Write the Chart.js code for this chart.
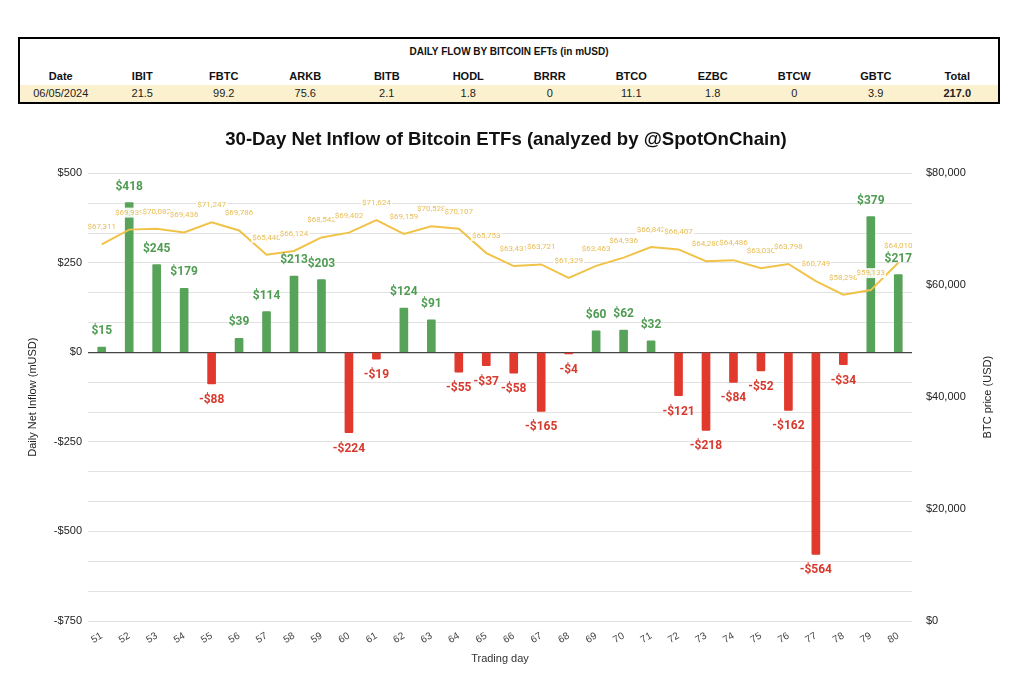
<!DOCTYPE html>
<html><head><meta charset="utf-8">
<script src="https://cdn.jsdelivr.net/npm/chart.js@4"></script>
<style>
html,body{margin:0;padding:0;background:#fff;width:1024px;height:678px;overflow:hidden;font-family:"Liberation Sans",Arial,sans-serif;}
#tbl{position:absolute;left:18px;top:37px;width:978px;height:63px;border:2px solid #000;}
#tbl .t{position:absolute;left:0;right:0;top:7px;text-align:center;font-weight:bold;font-size:10px;color:#111;}
#tbl .row{position:absolute;left:0;right:0;display:flex;font-size:11px;}
#tbl .row div{flex:1;text-align:center;}
#hdr{top:31px;font-weight:bold;color:#111;}
#dat{top:46px;height:17px;line-height:17px;background:#fcf1cf;color:#222;}
#wrap{position:absolute;left:0;top:110px;width:1024px;height:568px;}
#ttl{position:absolute;left:0;width:1012px;top:128px;height:22px;line-height:22px;text-align:center;font-weight:bold;font-size:18.6px;color:#111;z-index:2;}
</style></head>
<body>
<div id="tbl"><div class="t">DAILY FLOW BY BITCOIN EFTs (in mUSD)</div>
<div class="row" id="hdr"></div><div class="row" id="dat"></div></div>
<div id="wrap"><canvas id="c" width="1024" height="568"></canvas></div>
<div id="ttl"></div>
<script>
const chartTitle = '30-Day Net Inflow of Bitcoin ETFs (analyzed by @SpotOnChain)';
const tableHeaders = ["Date","IBIT","FBTC","ARKB","BITB","HODL","BRRR","BTCO","EZBC","BTCW","GBTC","Total"];
const tableValues = ["06/05/2024","21.5","99.2","75.6","2.1","1.8","0","11.1","1.8","0","3.9","217.0"];
const days = ["51","52","53","54","55","56","57","58","59","60","61","62","63","64","65","66","67","68","69","70","71","72","73","74","75","76","77","78","79","80"];
const netFlow = [15,418,245,179,-88,39,114,213,203,-224,-19,124,91,-55,-37,-58,-165,-4,60,62,32,-121,-218,-84,-52,-162,-564,-34,379,217];
const btcPrice = [67311,69939,70082,69436,71247,69786,65440,66124,68542,69402,71624,69159,70528,70107,65753,63431,63721,61329,63463,64936,66842,66407,64280,64486,63030,63798,60749,58298,59133,64010];

document.getElementById('ttl').textContent=chartTitle;
const hdr=document.getElementById('hdr'), dat=document.getElementById('dat');
tableHeaders.forEach(h=>{const d=document.createElement('div');d.textContent=h;hdr.appendChild(d);});
tableValues.forEach((v,i)=>{const d=document.createElement('div');d.textContent=v;if(i===tableValues.length-1)d.style.fontWeight='bold';dat.appendChild(d);});

const GREEN='#57a359', RED='#e1392d', GOLD='#f0c348';
const labelPlugin={
  id:'labels',
  afterDatasetsDraw(chart){
    const ctx=chart.ctx, xs=chart.scales.x, yl=chart.scales.y, yr=chart.scales.y2;
    ctx.save();
    ctx.textAlign='center';ctx.textBaseline='middle';
    ctx.font='8px Roboto';
    btcPrice.forEach((p,i)=>{
      const x=xs.getPixelForValue(i), y=yr.getPixelForValue(p)-17;
      const t='$'+p.toLocaleString('en-US');
      const w=ctx.measureText(t).width;
      ctx.fillStyle='rgba(255,255,255,0.9)';
      ctx.fillRect(x-w/2-1,y-5,w+2,10);
      ctx.fillStyle='#e9bd55';
      ctx.fillText(t,x,y);
    });
    ctx.font='bold 12px Roboto';
    netFlow.forEach((v,i)=>{
      const x=xs.getPixelForValue(i);
      const yv=yl.getPixelForValue(v);
      const y=v>=0?yv-16:yv+16;
      ctx.fillStyle=v>=0?'#4f9c52':'#d8392d';
      ctx.fillText((v<0?'-$':'$')+Math.abs(v),x,y);
    });
    // right axis title (reads bottom-to-top)
    const ca=chart.chartArea;
    ctx.translate(988,(ca.top+ca.bottom)/2);
    ctx.rotate(-Math.PI/2);
    ctx.font='11px "Liberation Sans", Arial';
    ctx.fillStyle='#222';
    ctx.fillText('BTC price (USD)',0,0);
    ctx.restore();
  }
};

new Chart(document.getElementById('c'),{
  data:{
    labels:days,
    datasets:[
      {type:'line',data:btcPrice,yAxisID:'y2',borderColor:GOLD,borderWidth:2,pointRadius:0,tension:0,order:1},
      {type:'bar',data:netFlow,yAxisID:'y',backgroundColor:netFlow.map(v=>v>=0?GREEN:RED),barThickness:8,borderRadius:1,order:2}
    ]
  },
  options:{
    responsive:false,animation:false,
    layout:{padding:{left:26,right:18,top:0,bottom:8}},
    plugins:{
      legend:{display:false},tooltip:{enabled:false},
      title:{display:true,text:chartTitle,color:'rgba(0,0,0,0)',
        font:{family:'"Liberation Sans", Arial, sans-serif',size:18.6,weight:'bold'},padding:{top:19.5,bottom:21.5}}
    },
    scales:{
      x:{
        grid:{display:false},border:{display:false},
        ticks:{color:'#444',font:{family:'"Liberation Sans", Arial',size:10},minRotation:30,maxRotation:30,padding:1},
        title:{display:true,text:'Trading day',color:'#333',font:{family:'"Liberation Sans", Arial',size:11},padding:{top:4,bottom:4}},
        afterFit(s){s.height=49;}
      },
      y:{
        position:'left',min:-750,max:500,
        afterBuildTicks(s){const t=[];for(let k=0;k<=15;k++){t.push({value:-750+k*250/3});}s.ticks=t;},
        grid:{color:c=>Math.abs(c.tick.value)<1e-6?'#444':'#e2e2e2',lineWidth:c=>Math.abs(c.tick.value)<1e-6?1.2:1,drawTicks:false},
        border:{display:false},
        ticks:{color:'#222',font:{family:'"Liberation Sans", Arial',size:11},padding:6,
          callback:v=>{const r=v/250;if(Math.abs(r-Math.round(r))>1e-6)return '';const n=Math.round(v);return n<0?'-$'+Math.abs(n):'$'+n;}},
        title:{display:true,text:'Daily Net Inflow (mUSD)',color:'#222',font:{family:'"Liberation Sans", Arial',size:11},padding:{top:0,bottom:4}},
        afterFit(s){s.width=62;}
      },
      y2:{
        position:'right',min:0,max:80000,
        ticks:{stepSize:20000,color:'#222',font:{family:'"Liberation Sans", Arial',size:11},padding:14,
          callback:v=>'$'+v.toLocaleString('en-US')},
        grid:{display:false,drawTicks:false},border:{display:false},
        afterFit(s){s.width=94;}
      }
    }
  },
  plugins:[labelPlugin]
});
</script>
</body></html>
